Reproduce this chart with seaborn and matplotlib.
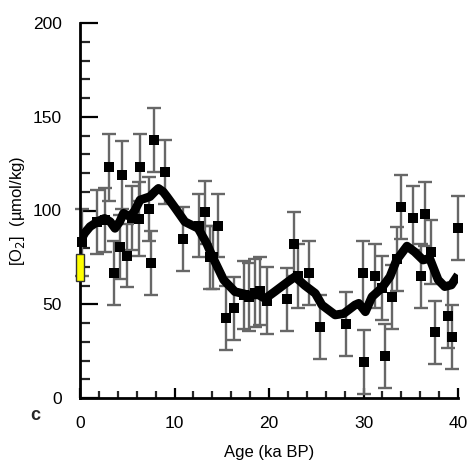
import matplotlib
matplotlib.use("Agg")
import matplotlib.pyplot as plt
import seaborn as sns
import pandas as pd
from matplotlib.patches import Rectangle

# ---- data ----
sample_age = [0.2, 1.8, 2.6, 3.1, 3.6, 4.2, 4.4, 5.0, 5.5, 6.2, 6.4, 7.3, 7.5, 7.8, 9.0,
              10.9, 12.6, 13.2, 13.8, 14.1, 14.6, 15.45, 16.3, 17.4, 17.9, 18.5, 19.0, 19.75,
              21.9, 22.6, 23.1, 24.2, 25.4, 28.1, 29.9, 30.1, 31.2, 32.0, 32.3, 33.0, 33.5,
              34.0, 35.2, 36.1, 36.5, 37.1, 37.6, 38.9, 39.4, 40.0]
sample_o2 = [83, 94, 95, 123, 66.5, 80.7, 119, 76, 96, 95.5, 123, 101, 72, 137.6, 120.7,
             85, 92, 99, 75, 75, 92, 42.5, 47.8, 55, 54, 56, 57, 52,
             52.6, 82, 65, 66.5, 38, 39.5, 66.5, 19.4, 65, 58.5, 22.4, 53.7, 74,
             102, 96, 65, 98, 78, 35, 43.7, 32.4, 90.5]
sample_err = [18, 17, 17, 18, 17, 17, 18, 17, 17, 19.5, 18, 17, 17, 17, 17,
              17, 17, 17, 17, 17, 17, 17, 17, 18, 18, 18, 18, 18,
              17, 17, 17, 17, 17, 17, 17, 17, 17, 17, 17, 17, 17,
              17, 17, 17, 17, 17, 17, 17, 17, 17]

smooth_age = [0, 0.5, 1.06, 2, 2.6, 3.2, 3.7, 4.2, 4.6, 5.3, 5.8, 6.35, 7.4, 7.9, 8.3, 8.8,
              9.2, 10.05, 11.1, 12.5, 13.4, 14.1, 15.2, 16.4, 17.8, 18.9, 19.6, 20.6, 22.0,
              22.75, 23.8, 24.9, 25.6, 27, 27.9, 29.1, 29.5, 30.2, 30.9, 31.9, 32.8, 33.5,
              34.6, 35.4, 36.3, 37, 37.9, 38.6, 39.3, 40]
smooth_o2 = [83.5, 88, 91.4, 94.5, 95.8, 94, 90.5, 94, 98.5, 96.7, 100, 105.6, 107.4, 110,
             111.8, 110, 107.4, 101.5, 94, 90.5, 82.5, 74.5, 63, 56.7, 55, 55, 53, 56.7, 62,
             64.7, 60, 55.8, 49.6, 44.3, 45, 49.6, 50.5, 46, 54, 58.5, 64.7, 73.6,
             81, 78, 73.6, 74.5, 63, 59.4, 60.3, 65.6]

modern_o2 = [62.5, 77]   # modern range (yellow bar)

x_ticks = [0, 10, 20, 30, 40]
y_ticks = [0, 50, 100, 150, 200]

# ---- plot ----
sns.set_theme(style="white")
plt.rcParams['font.family'] = ['Liberation Sans', 'DejaVu Sans']

fig = plt.figure(figsize=(4.70, 4.72), dpi=100)
ax = fig.add_axes([80/470, 74/472, 378/470, 375/472])

samples = pd.DataFrame({"age": sample_age, "o2": sample_o2, "err": sample_err})
smooth = pd.DataFrame({"age": smooth_age, "o2": smooth_o2})

ax.errorbar(samples["age"], samples["o2"], yerr=samples["err"], fmt="none",
            ecolor="#676767", elinewidth=1.7, capsize=5, capthick=1.7, zorder=2,
            clip_on=False)
sns.lineplot(data=smooth, x="age", y="o2", ax=ax, color="black", linewidth=6.3,
             sort=False, zorder=3, solid_capstyle="butt")
sns.scatterplot(data=samples, x="age", y="o2", ax=ax, marker="s", color="black",
                s=58, edgecolor="black", linewidth=0, zorder=4, clip_on=False)

ax.add_patch(Rectangle((-0.45, modern_o2[0]), 0.9, modern_o2[1] - modern_o2[0],
                       facecolor="#ffff00", edgecolor="#333333", linewidth=1.0,
                       zorder=5, clip_on=False))

ax.set_xlim(0, 40)
ax.set_ylim(0, 200)
ax.set_xticks(x_ticks)
ax.set_yticks(y_ticks)
ax.set_xticks(range(0, 41, 2), minor=True)
ax.set_yticks(range(0, 201, 10), minor=True)

for s in ["top", "right"]:
    ax.spines[s].set_visible(False)
for s in ["left", "bottom"]:
    ax.spines[s].set_linewidth(2)
    ax.spines[s].set_color("black")

ax.tick_params(axis="y", which="major", direction="in", length=13, width=1.6,
               pad=13, labelsize=12.5, colors="black", left=True)
ax.tick_params(axis="y", which="minor", direction="in", length=7, width=1.6, left=True)
ax.tick_params(axis="x", which="major", direction="in", length=7, width=1.6,
               pad=13, labelsize=12.5, colors="black", bottom=True)
ax.tick_params(axis="x", which="minor", direction="in", length=5, width=1.6, bottom=True)

ax.set_xlabel("Age (ka BP)", fontsize=12, labelpad=10, color="black")
ax.set_ylabel("[O$_2$]  (µmol/kg)", fontsize=12, labelpad=4, color="black")
ax.grid(False)

fig.text(35/470, 1 - 415/472, "c", fontsize=13, fontweight="bold",
         ha="center", va="center")

fig.savefig("out.png", dpi=100)
